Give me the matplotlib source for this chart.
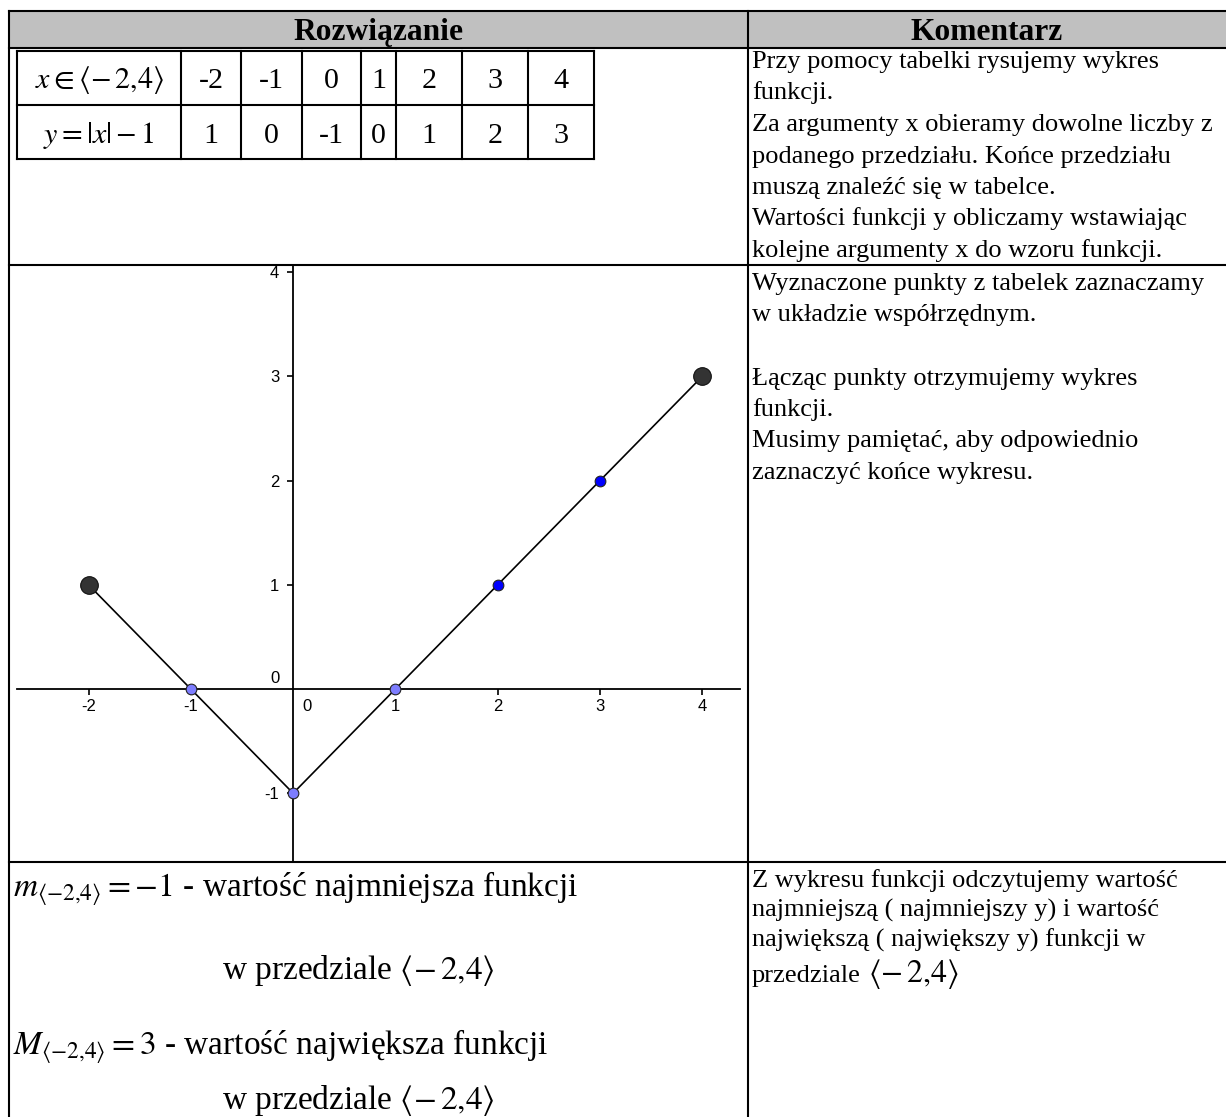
import matplotlib.pyplot as plt
from matplotlib.patches import Rectangle

plt.rcParams['font.family'] = ['Liberation Serif', 'DejaVu Serif']
plt.rcParams['mathtext.fontset'] = 'stix'
plt.rcParams['axes.unicode_minus'] = False

W, H = 1226, 1117

# y = |x| - 1 on <-2,4>, values from the table
x_vals = [-2, -1, 0, 1, 2, 3, 4]
y_vals = [1, 0, -1, 0, 1, 2, 3]
end_idx = [0, 6]      # ends of the interval
path_idx = [1, 2, 3]  # points on the axes
free_idx = [4, 5]

x_ticks = [-2, -1, 1, 2, 3, 4]
y_ticks = [-1, 1, 2, 3, 4]

header_left = 'Rozwiązanie'
header_right = 'Komentarz'
row_labels = [r'$x \in \langle {-}\,2{,}4\rangle$', r'$y = |x| - 1$']
interval = r'$\langle {-}\,2{,}4\rangle$'

comments_1 = [
    'Przy pomocy tabelki rysujemy wykres',
    'funkcji.',
    'Za argumenty x obieramy dowolne liczby z',
    'podanego przedziału. Końce przedziału',
    'muszą znaleźć się w tabelce.',
    'Wartości funkcji y obliczamy wstawiając',
    'kolejne argumenty x do wzoru funkcji.',
]
comments_2 = [
    'Wyznaczone punkty z tabelek zaznaczamy',
    'w układzie współrzędnym.',
    '',
    'Łącząc punkty otrzymujemy wykres',
    'funkcji.',
    'Musimy pamiętać, aby odpowiednio',
    'zaznaczyć końce wykresu.',
]
comments_3 = [
    'Z wykresu funkcji odczytujemy wartość',
    'najmniejszą ( najmniejszy y) i wartość',
    'największą ( największy y) funkcji w',
]
answers = [
    r'$m_{\langle {-}2{,}4\rangle} = -1$ - wartość najmniejsza funkcji',
    r'$M_{\langle {-}2{,}4\rangle} = 3$ - wartość największa funkcji',
]

fig = plt.figure(figsize=(W / 100, H / 100), dpi=100)
doc = fig.add_axes([0, 0, 1, 1])
doc.set_xlim(0, W)
doc.set_ylim(H, 0)
doc.axis('off')

LW = 1.5


def hline(y, x0, x1):
    doc.plot([x0, x1], [y, y], color='black', lw=LW, solid_capstyle='projecting')


def vline(x, y0, y1):
    doc.plot([x, x], [y0, y1], color='black', lw=LW, solid_capstyle='projecting')


# page table: header, three rows, two columns
doc.add_patch(Rectangle((9, 11), W - 9, 37, facecolor='#c0c0c0', edgecolor='none'))
hline(11, 9, W)
hline(48, 9, W)
hline(265, 9, W)
hline(862, 9, W)
vline(9, 11, H)
vline(748, 11, H)

doc.text(378, 40, header_left, ha='center', va='baseline', fontsize=22.7, fontweight='bold')
doc.text(987, 40, header_right, ha='center', va='baseline', fontsize=22.7, fontweight='bold')

# value table
col_edges = [17, 181, 241, 302, 361, 396, 462, 528, 594]
row_edges = [51, 105, 159]
for y in row_edges:
    hline(y, col_edges[0], col_edges[-1])
for x in col_edges:
    vline(x, row_edges[0], row_edges[-1])

rows = [[str(v) for v in x_vals], [str(v) for v in y_vals]]
baselines = [88, 143]
for r, base in enumerate(baselines):
    doc.text((col_edges[0] + col_edges[1]) / 2, base, row_labels[r],
             ha='center', va='baseline', fontsize=21.6)
    for c, val in enumerate(rows[r]):
        xc = (col_edges[c + 1] + col_edges[c + 2]) / 2
        doc.text(xc, base, val, ha='center', va='baseline', fontsize=21.6)

# comments
CF = 19
STEP = 31.5
for i, line in enumerate(comments_1):
    doc.text(752, 68 + i * STEP, line, va='baseline', fontsize=CF)
for i, line in enumerate(comments_2):
    doc.text(752, 290 + i * STEP, line, va='baseline', fontsize=CF)
for i, line in enumerate(comments_3):
    doc.text(752, 887 + i * 30, line, va='baseline', fontsize=CF)
last = doc.text(752, 982, 'przedziale', va='baseline', fontsize=CF)
renderer = fig.canvas.get_renderer()
bb = last.get_window_extent(renderer)
x_end = doc.transData.inverted().transform((bb.x1, bb.y0))[0]
doc.text(x_end + 7, 982, interval, va='baseline', fontsize=23)

# min / max answers
AF = 24
doc.text(13, 897, answers[0], va='baseline', fontsize=AF)
doc.text(222, 979, 'w przedziale ' + interval, va='baseline', fontsize=AF)
doc.text(13, 1054, answers[1], va='baseline', fontsize=AF)
doc.text(222, 1109, 'w przedziale ' + interval, va='baseline', fontsize=AF)

# graph
ax = fig.add_axes([17 / W, 1 - 862 / H, (740 - 17) / W, (862 - 265) / H])
ax.set_xlim(-2.70, 4.37)
ax.set_ylim(-1.66, 4.07)
ax.patch.set_alpha(0)
for side in ['top', 'right']:
    ax.spines[side].set_visible(False)
for side in ['left', 'bottom']:
    ax.spines[side].set_position(('data', 0))
    ax.spines[side].set_linewidth(1.3)
ax.set_xticks(x_ticks)
ax.set_xticklabels([str(t) for t in x_ticks])
ax.set_yticks(y_ticks)
ax.set_yticklabels([str(t) for t in y_ticks])
ax.tick_params(axis='x', direction='out', length=4.5, width=1.2, pad=3,
               labelsize=12, labelfontfamily='Liberation Sans')
ax.tick_params(axis='y', direction='out', length=4.5, width=1.2, pad=5.5,
               labelsize=12, labelfontfamily='Liberation Sans')
ax.text(0.137, -0.17, '0', ha='center', va='center', fontsize=12, family='Liberation Sans')
ax.text(-0.135, 0.10, '0', ha='right', va='center', fontsize=12, family='Liberation Sans')

ax.plot(x_vals, y_vals, color='black', lw=1.2, zorder=2)
ax.plot([x_vals[i] for i in end_idx], [y_vals[i] for i in end_idx], 'o',
        ms=12.7, mfc='#333333', mec='#111111', mew=0.8, zorder=3)
ax.plot([x_vals[i] for i in path_idx], [y_vals[i] for i in path_idx], 'o',
        ms=7.7, mfc='#7d7dff', mec='#222222', mew=0.8, zorder=3)
ax.plot([x_vals[i] for i in free_idx], [y_vals[i] for i in free_idx], 'o',
        ms=7.7, mfc='#0000ff', mec='#222222', mew=0.8, zorder=3)

fig.savefig('out.png', dpi=100)
